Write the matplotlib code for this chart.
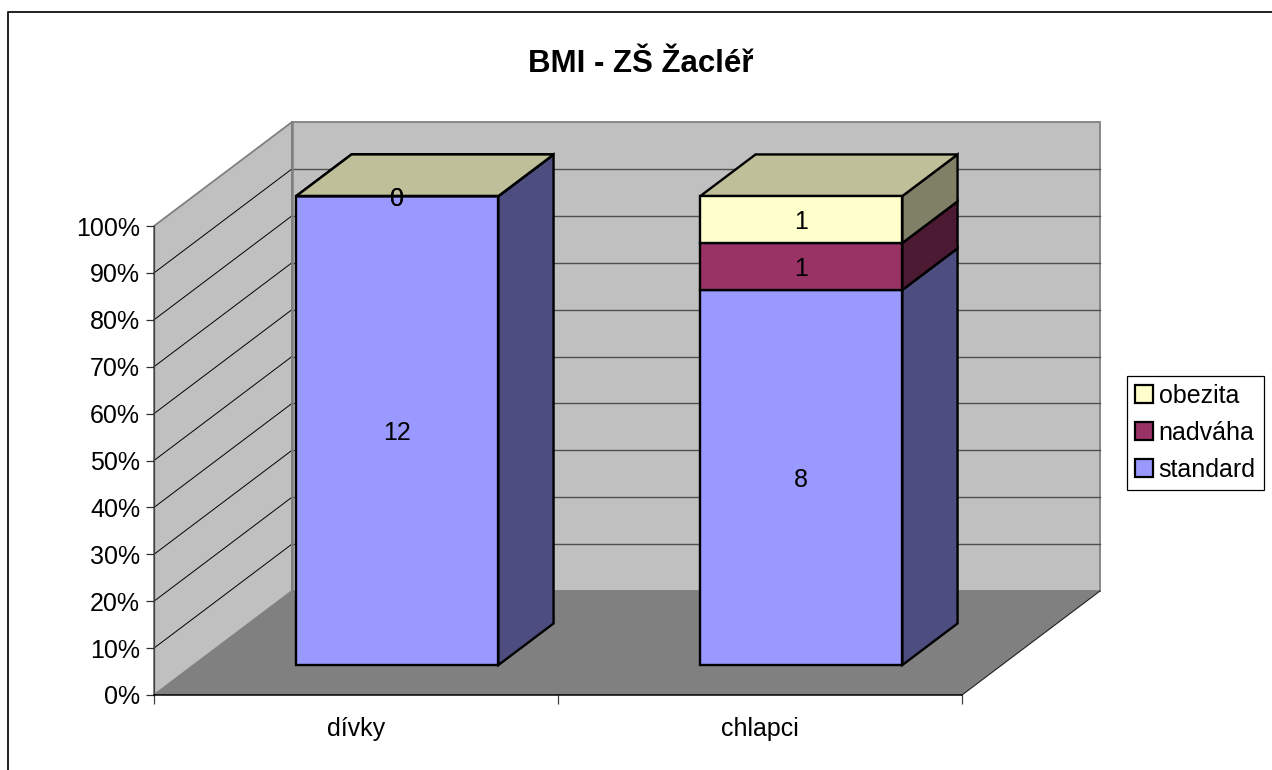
import matplotlib
matplotlib.use('Agg')
import matplotlib.pyplot as plt
from matplotlib.lines import Line2D
from matplotlib.patches import Patch, Polygon

W, H = 1272, 770

categories = ['dívky', 'chlapci']
series_names = ['standard', 'nadváha', 'obezita']
standard = [12, 8]
nadvaha = [0, 1]
obezita = [0, 1]
series_values = [standard, nadvaha, obezita]
pct_ticks = [0, 10, 20, 30, 40, 50, 60, 70, 80, 90, 100]

face_colors = ['#9999FF', '#993366', '#FFFFCC']
side_colors = ['#4D4D80', '#4D1A33', '#808066']
top_colors = ['#BFBFFF', '#BF4080', '#BFBF99']

# fake 3d: how far one full unit of depth moves a point, in data units
DEPTH_X = 138 / 404
DEPTH_Y = 104 / 4.69
BAR_WIDTH = 0.5
BAR_CENTER = 0.504
BAR_FRONT = 0.288
BAR_BACK = 0.688

plt.rcParams['font.family'] = ['Liberation Sans', 'DejaVu Sans']
plt.rcParams['font.size'] = 18


def proj(x, y, d=0.0):
    return (x + d * DEPTH_X, y + d * DEPTH_Y)


def face(ax, points, color, edge, lw, z):
    ax.add_patch(Polygon(points, closed=True, facecolor=color, edgecolor=edge,
                         linewidth=lw, joinstyle='miter', clip_on=False, zorder=z))


fig = plt.figure(figsize=(W / 100, H / 100), dpi=100, facecolor='white')
ax = fig.add_axes([154 / W, 1 - 695 / H, 808 / W, 469 / H])
ax.set_xlim(0, 2)
ax.set_ylim(0, 100)
ax.patch.set_visible(False)

# walls and floor
face(ax, [proj(0, 0), proj(0, 100), proj(0, 100, 1), proj(0, 0, 1)], '#C0C0C0', '#808080', 1.3, 1)
face(ax, [proj(0, 0, 1), proj(0, 100, 1), proj(2, 100, 1), proj(2, 0, 1)], '#C0C0C0', '#808080', 1.3, 1)
face(ax, [proj(0, 0), proj(2, 0), proj(2, 0, 1), proj(0, 0, 1)], '#808080', 'none', 0, 1.5)
ax.plot(*zip(proj(2, 0), proj(2, 0, 1)), color='#202020', lw=0.8, clip_on=False, zorder=2)

# gridlines run up the side wall and along the back
for p in pct_ticks[1:-1]:
    ax.plot(*zip(proj(0, p), proj(0, p, 1)), color='black', lw=0.7, clip_on=False, zorder=2)
    ax.plot(*zip(proj(0, p, 1), proj(2, p, 1)), color='#505050', lw=1.0, clip_on=False, zorder=2)
ax.plot(*zip(proj(0, 0, 1), proj(0, 100, 1)), color='#808080', lw=1.8, clip_on=False, zorder=2)

# stacked bars, drawn as 100% of each category
for i, name in enumerate(categories):
    total = sum(s[i] for s in series_values)
    left = i + BAR_CENTER - BAR_WIDTH / 2
    right = i + BAR_CENTER + BAR_WIDTH / 2
    base = 0.0
    for j, s in enumerate(series_values):
        top = base + 100 * s[i] / total
        face(ax, [proj(right, base, BAR_FRONT), proj(right, top, BAR_FRONT),
                  proj(right, top, BAR_BACK), proj(right, base, BAR_BACK)],
             side_colors[j], 'black', 1.7, 3 + j)
        face(ax, [proj(left, top, BAR_FRONT), proj(right, top, BAR_FRONT),
                  proj(right, top, BAR_BACK), proj(left, top, BAR_BACK)],
             top_colors[j], 'black', 1.7, 3 + j)
        face(ax, [proj(left, base, BAR_FRONT), proj(right, base, BAR_FRONT),
                  proj(right, top, BAR_FRONT), proj(left, top, BAR_FRONT)],
             face_colors[j], 'black', 1.7, 3 + j)
        tx, ty = proj(i + BAR_CENTER, (base + top) / 2, BAR_FRONT)
        ax.text(tx, ty, str(s[i]), ha='center', va='center_baseline', color='black', zorder=10)
        base = top

# axes
for side in ['top', 'right']:
    ax.spines[side].set_visible(False)
ax.spines['left'].set_color('#404040')
ax.spines['left'].set_linewidth(0.9)
ax.spines['bottom'].set_color('black')
ax.spines['bottom'].set_linewidth(1.1)
ax.spines['left'].set_zorder(2.5)
ax.spines['bottom'].set_zorder(2.5)
ax.set_yticks(pct_ticks)
ax.set_yticklabels(['%d%%' % p for p in pct_ticks])
ax.tick_params(axis='y', length=6, width=0.9, color='#303030', pad=4)
ax.set_xticks([0, 1, 2])
ax.set_xticklabels(['', '', ''])
ax.tick_params(axis='x', which='major', length=6.5, width=0.9, color='#404040')
ax.set_xticks([0.5, 1.5], minor=True)
ax.set_xticklabels(categories, minor=True)
ax.tick_params(axis='x', which='minor', length=0, pad=16)

fig.text(640.5 / W, 1 - 64 / H, 'BMI - ZŠ Žacléř', ha='center', va='center',
         fontsize=22.5, fontweight='bold')

# outer frame of the chart area
fig.add_artist(Line2D([7.5 / W, 7.5 / W, 1], [0, 1 - 12 / H, 1 - 12 / H], color='#202020', lw=1.4))

handles = [Patch(facecolor=face_colors[j], edgecolor='black', linewidth=1.6) for j in [2, 1, 0]]
labels = [series_names[j] for j in [2, 1, 0]]
fig.legend(handles, labels, loc='lower left', bbox_to_anchor=(1127 / W, 1 - 490 / H),
           borderaxespad=0, frameon=True, fancybox=False, edgecolor='black', framealpha=1,
           facecolor='white', handlelength=0.72, handleheight=0.72, handletextpad=0.22,
           labelspacing=0.52, borderpad=0.32, fontsize=18).get_frame().set_linewidth(0.9)

fig.savefig('out.png', dpi=100)
